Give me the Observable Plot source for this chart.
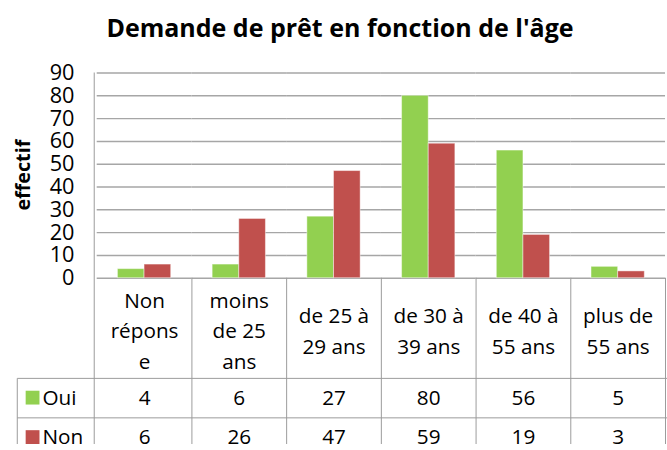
<!DOCTYPE html>
<html><head><meta charset="utf-8">
<script src="https://cdn.jsdelivr.net/npm/d3@7"></script>
<script src="https://cdn.jsdelivr.net/npm/@observablehq/plot@0.6"></script>
<style>
html,body{margin:0;padding:0;background:#fff;overflow:hidden}
#wrap{position:relative;width:667px;height:450px;overflow:hidden;font-family:"Open Sans",sans-serif;background:#fff}
#title{position:absolute;left:0;width:680px;top:10px;text-align:center;font-weight:bold;font-size:25px;line-height:34px;color:#000;z-index:2}
#chart{position:absolute;left:0;top:0}
</style></head><body>
<div id="wrap"><div id="chart"></div><div id="title">Demande de prêt en fonction de l'âge</div></div>
<script>
const categories = ["Non réponse", "moins de 25 ans", "de 25 à 29 ans", "de 30 à 39 ans", "de 40 à 55 ans", "plus de 55 ans"];
const categoryLabels = ["Non\nrépons\ne", "moins\nde 25\nans", "de 25 à\n29 ans", "de 30 à\n39 ans", "de 40 à\n55 ans", "plus de\n55 ans"];
const series = ["Oui", "Non"];
const oui = [4, 6, 27, 80, 56, 5];
const non = [6, 26, 47, 59, 19, 3];
const yTicks = [0, 10, 20, 30, 40, 50, 60, 70, 80, 90];
const colors = ["#92d050", "#c0504d"];
const yLabel = "effectif";

const rows = categories.flatMap((c, i) => [
  {cat: c, serie: "Oui", value: oui[i]},
  {cat: c, serie: "Non", value: non[i]}
]);

const W = 676, H = 450, TOP = 73.5, BASE = 281.5, LEFT = 95;
const FS = 21;
const gridColor = "#a6a6a6", tableColor = "#9a9a9a";

const plot = Plot.plot({
  width: W, height: H,
  marginTop: TOP, marginBottom: H - BASE, marginLeft: LEFT, marginRight: 0,
  style: {fontFamily: "Open Sans", fontSize: FS + "px", color: "#000", background: "transparent"},
  fx: {domain: categories, padding: 0, axis: null, label: null},
  x: {domain: series, paddingInner: 0, paddingOuter: 0.74, axis: null},
  y: {domain: [0, 90], label: null},
  color: {domain: series, range: colors},
  marks: [
    Plot.ruleY(yTicks, {stroke: gridColor, strokeWidth: 1.5}),
    Plot.axisY(yTicks, {tickSize: 0, tickPadding: 23, fontSize: 22, label: null, fill: "#000"}),
    Plot.barY(rows, {fx: "cat", x: "serie", y: "value", fill: "serie", stroke: "white", strokeOpacity: 0.45, strokeWidth: 1}),
    Plot.text(categories, {fx: d => d, text: (d, i) => categoryLabels[i], frameAnchor: "bottom", lineAnchor: "middle", dy: 51, lineHeight: 1.48, fontSize: FS, fill: "#000"}),
    Plot.text(rows.filter(d => d.serie === "Oui"), {fx: "cat", text: "value", frameAnchor: "bottom", lineAnchor: "middle", dy: 121.5, fontSize: FS, fill: "#000"}),
    Plot.text(rows.filter(d => d.serie === "Non"), {fx: "cat", text: "value", frameAnchor: "bottom", lineAnchor: "middle", dy: 161.5, fontSize: FS, fill: "#000"})
  ]
});

const svg = d3.select(plot);
const fx = plot.scale("fx");
const color = plot.scale("color");
const g = svg.append("g").attr("stroke", tableColor).attr("stroke-width", 1).attr("fill", "none");
const line = (x1, y1, x2, y2) => g.append("line").attr("x1", x1).attr("y1", y1).attr("x2", x2).attr("y2", y2);
const bw = fx.bandwidth;
const rowTop1 = 383.5, rowTop2 = 423.5, tableLeft = 17.5;
line(LEFT + 0.5, TOP, LEFT + 0.5, H);
categories.forEach((c, i) => { if (i > 0) { const x = Math.round(fx.apply(c)) + 0.5; line(x, BASE, x, H); } });
const xEnd = Math.round(fx.apply(categories[categories.length - 1]) + bw) + 0.5;
line(xEnd, BASE, xEnd, H);
line(tableLeft, rowTop1, W, rowTop1);
line(tableLeft, rowTop2, W, rowTop2);
line(tableLeft, rowTop1, tableLeft, H);

// legend keys in the data table
const lg = svg.append("g").attr("font-family", "Open Sans").attr("font-size", FS).attr("text-anchor", "start");
[[series[0], 403], [series[1], 443]].forEach(([s, cy]) => {
  lg.append("rect").attr("x", 26).attr("y", cy - 7).attr("width", 14).attr("height", 14).attr("fill", color.apply(s));
  lg.append("text").attr("x", 43).attr("y", cy).attr("dy", "0.35em").attr("fill", "#000").text(s);
});

// y axis title
svg.append("text").attr("transform", `translate(23,${(TOP + BASE) / 2}) rotate(-90)`)
  .attr("text-anchor", "middle").attr("dy", "0.35em").attr("font-family", "Open Sans").attr("font-size", 20).attr("font-weight", "bold")
  .attr("fill", "#000").text(yLabel);

document.getElementById("chart").appendChild(plot);
</script>
</body></html>
